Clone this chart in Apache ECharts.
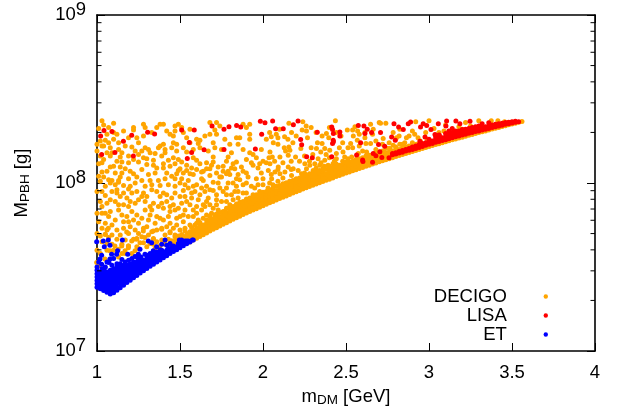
<!DOCTYPE html>
<html><head><meta charset="utf-8">
<style>html,body{margin:0;padding:0;background:#fff}#c{width:621px;height:412px}</style>
<script src="https://cdn.jsdelivr.net/npm/echarts@6/dist/echarts.min.js"></script>
</head><body><div id="c"></div>
<script>
const seriesNames = ['DECIGO','LISA','ET'];
const xTicks = [1,1.5,2,2.5,3,3.5,4];
const yMinorTicks = [2e7,3e7,4e7,5e7,6e7,7e7,8e7,9e7,2e8,3e8,4e8,5e8,6e8,7e8,8e8,9e8];

// All values: [m_DM, log10(M_PBH/g)]
const decigoPoints = [
[1.03,8.37],[1.10,8.355],[1.01,8.325],[1.06,8.29],[1.10,8.30],[1.12,8.29],[1.22,8.33],[1.22,8.315],[1.28,8.35],[1.29,8.33],[1.28,8.28],[1.36,8.33],[1.38,8.35],[1.40,8.35],[1.47,8.34],[1.49,8.35],[1.47,8.31],[1.44,8.29],[1.46,8.28],[1.10,8.26],[1.13,8.24],[1.17,8.22],[1.13,8.20],[1.02,8.25],[1.00,8.23],[1.03,8.22],[1.00,8.19],[1.04,8.22],[1.08,8.21],[1.09,8.18],[1.06,8.18],[1.08,8.16],[1.25,8.24],[1.23,8.19],[1.19,8.16],[1.29,8.21],[1.31,8.20],[1.32,8.18],[1.37,8.21],[1.40,8.23],[1.41,8.20],[1.38,8.22],[1.41,8.18],[1.46,8.24],[1.48,8.23],[1.45,8.21],[1.48,8.19],[1.46,8.15],[1.49,8.14],[1.25,8.17],[1.28,8.15],[1.30,8.145],[1.34,8.135],[1.34,8.105],[1.40,8.115],[1.40,8.09],[1.41,8.025],[1.25,8.125],[1.01,8.115],[1.03,8.12],[1.08,8.095],[1.10,8.10],[1.14,8.155],[1.15,8.125],[1.14,8.095],[1.17,8.085],[1.15,8.06],[1.14,8.035],[1.03,8.065],[1.04,8.035],[1.07,8.02],[1.09,8.015],[1.19,8.025],[1.13,8.015],[1.22,8.055],[1.24,8.035],[1.27,8.015],[1.32,8.015],[1.37,8.015],[1.49,8.075],[1.48,8.055],[1.47,8.025],
[1.68,8.36],[1.72,8.36],[1.74,8.34],[1.88,8.35],[1.92,8.35],[1.90,8.33],[1.52,8.30],[1.56,8.32],[1.54,8.27],[1.68,8.29],[1.72,8.29],[1.71,8.315],[1.60,8.26],[1.62,8.255],[1.61,8.235],[1.62,8.21],[1.52,8.21],[1.54,8.185],[1.58,8.20],[1.70,8.24],[1.71,8.21],[1.67,8.19],[1.70,8.155],[1.66,8.12],[1.60,8.135],[1.62,8.115],[1.80,8.23],[1.84,8.27],[1.86,8.27],[1.85,8.23],[1.92,8.29],[1.92,8.26],[1.81,8.18],[1.79,8.155],[1.92,8.18],[1.94,8.17],[1.99,8.20],[1.98,8.115],[1.93,8.12],[1.94,8.105],[1.84,8.125],[1.82,8.115],[1.81,8.09],[1.83,8.085],[1.87,8.095],[1.88,8.07],[1.76,8.10],[1.73,8.095],[1.70,8.125],[1.69,8.105],[1.68,8.085],[1.66,8.085],[1.51,8.125],[1.50,8.085],[1.54,8.105],[1.54,8.075],[1.56,8.055],[1.58,8.05],[1.63,8.065],[1.64,8.07],[1.63,8.025],[1.64,8.015],[1.55,8.015],[1.51,8.025],[1.70,8.005],[1.75,8.035],[1.78,8.055],[1.79,8.07],[1.80,8.05],[1.84,8.025],[1.86,8.02],[1.91,8.035],[1.96,8.025],[1.99,8.06],[2.00,8.025],[1.74,8.035],
[2.156,8.355],[2.24,8.365],[2.436,8.37],[2.26,8.34],[2.29,8.33],[2.236,8.315],[2.262,8.31],[2.172,8.30],[2.04,8.30],[2.08,8.29],[2.09,8.27],[2.13,8.275],[2.05,8.275],[2.02,8.26],[2.268,8.27],[2.18,8.24],[2.228,8.205],[2.328,8.24],[2.356,8.28],[2.382,8.295],[2.356,8.235],[2.396,8.27],[2.48,8.24],[2.442,8.30],[2.508,8.315],[2.512,8.21],[2.062,8.24],[2.09,8.23],[2.042,8.185],[2.128,8.21],[2.156,8.215],[2.136,8.19],[2.162,8.195],[2.152,8.165],[2.102,8.155],[2.036,8.15],[2.056,8.155],[2.042,8.115],[2.196,8.155],[2.322,8.205],[2.348,8.185],[2.372,8.205],[2.402,8.195],[2.442,8.175],[2.482,8.185],[2.332,8.145],[2.372,8.135],[2.442,8.145],[2.492,8.155],[2.512,8.145],[2.252,8.115],[2.282,8.105],[2.312,8.115],[2.342,8.105],[2.392,8.105],[2.422,8.115],[2.092,8.095],[2.152,8.095],[2.182,8.085],[2.212,8.075],[2.132,8.065],[2.072,8.065],[2.032,8.075],[2.102,8.055],[2.262,8.085],[2.302,8.075],[2.232,8.055],[2.172,8.045],[2.052,8.025],[2.272,8.045],
[2.648,8.35],[2.70,8.36],[2.708,8.355],[2.74,8.355],[2.554,8.335],[2.54,8.315],[2.544,8.28],[2.58,8.29],[2.614,8.30],[2.568,8.255],[2.614,8.27],[2.664,8.32],[2.66,8.29],[2.528,8.235],[2.54,8.21],[2.62,8.235],[2.648,8.235],[2.724,8.265],[2.784,8.30],[2.804,8.27],[2.864,8.27],[2.854,8.24],[2.914,8.29],[2.934,8.27],[2.92,8.365],[3.0,8.37],[2.824,8.32],[2.764,8.205],[2.784,8.225],[2.734,8.185],[2.694,8.165],[2.824,8.23],[2.894,8.21],[2.924,8.23],[2.948,8.25],[2.574,8.175],[2.534,8.155],[2.624,8.185],[2.644,8.155],[2.664,8.135],
[3.30,8.37],[3.375,8.37],[3.415,8.37],[3.455,8.365],[3.22,8.36],[3.1,8.345],[3.18,8.335],[3.03,8.325],[3.09,8.31],[2.98,8.3],[3.25,8.34],[3.15,8.30],[2.99,8.26],[2.93,8.21],[2.9,8.24],[2.88,8.2],[3.06,8.30],[3.2,8.32],
[1.08,8.0],[1.13,8.005],[1.20,7.98],[1.19,7.965],[1.12,7.96],[1.12,7.94],[1.14,7.92],[1.21,7.94],[1.03,7.95],[1.05,7.925],[1.02,7.89],[1.06,7.88],[1.03,7.86],[1.28,7.94],[1.30,7.92],[1.36,7.95],[1.40,7.94],[1.42,7.93],[1.47,7.94],[1.47,7.98],[1.42,7.89],[1.46,7.87],[1.25,7.90],[1.20,7.89],[1.13,7.87],[1.16,7.87],[1.19,7.86],[1.23,7.88],[1.29,7.89],[1.34,7.88],[1.37,7.86],[1.33,7.84],[1.40,7.85],[1.47,7.84],[1.44,7.83],[1.08,7.83],[1.05,7.82],[1.13,7.84],[1.15,7.81],[1.18,7.80],[1.21,7.83],[1.24,7.81],[1.22,7.78],[1.32,7.81],[1.36,7.80],[1.31,7.78],[1.01,7.77],[1.09,7.75],[1.20,7.74],[1.25,7.76],[1.28,7.73],[1.40,7.78],[1.44,7.76],[1.48,7.75],[1.39,7.73],[1.03,7.73],[1.06,7.72],[1.19,7.70],[1.25,7.70],[1.33,7.71],[1.44,7.71],[1.47,7.69],[1.02,7.685],[1.05,7.695],[1.07,7.675],[1.22,7.665],[1.24,7.67],[1.12,7.665],[1.15,7.635],[1.09,7.635],[1.19,7.625],[1.28,7.645],[1.34,7.67],[1.34,7.635],[1.41,7.635],[1.45,7.655],[1.48,7.665],
[1.55,7.97],[1.60,7.99],[1.59,7.95],[1.52,7.955],[1.65,7.95],[1.66,7.98],[1.73,8.0],[1.79,8.0],[1.78,7.97],[1.84,7.98],[1.88,7.99],[1.93,7.98],[1.97,7.99],[1.85,7.95],[1.78,7.93],[1.81,7.93],[1.88,7.94],[1.85,7.91],[1.82,7.90],[1.72,7.93],[1.70,7.955],[1.53,7.92],[1.57,7.91],[1.61,7.90],[1.67,7.91],[1.75,7.89],[1.78,7.89],[1.86,7.87],[1.51,7.88],[1.56,7.87],[1.60,7.86],[1.63,7.84],[1.65,7.86],[1.70,7.85],[1.73,7.84],[1.53,7.84],[1.77,7.83],[1.69,7.82],[1.71,7.81],[1.82,7.84],[1.91,7.89],[1.96,7.89],[2.0,7.92],[1.52,7.81],[1.55,7.80],[1.61,7.78],[1.64,7.79],[1.66,7.81],[1.52,7.77],[1.56,7.75],[1.68,7.77],[1.59,7.75],[1.62,7.75],[1.53,7.73],
[1.05,7.694],[1.068,7.73],[1.179,7.708],[1.209,7.655],[1.149,7.625],[1.189,7.615],[1.239,7.665],[1.289,7.675],[1.279,7.714],[1.339,7.714],[1.339,7.665],[1.39,7.724],[1.44,7.704],[1.45,7.655],[1.51,7.694],[1.53,7.714],[1.59,7.704],[1.63,7.724],[0.998,7.527],[1.012,7.507],[1.048,7.547],[1.078,7.596],[1.108,7.625],[1.128,7.606],[1.169,7.596],[1.189,7.625],[1.229,7.596],[1.259,7.645],[1.38,7.625],[1.43,7.665],[1.49,7.684],
[1.0,7.60],[1.0,7.70],[1.0,7.82],[1.0,7.95],[1.01,8.04],[1.06,7.60],[1.13,7.56],[1.15,7.58],[1.21,7.58],[1.25,7.61],[1.30,7.62],[1.32,7.64],[1.36,7.65],[1.39,7.66],[1.47,7.68],[1.52,7.68],[1.55,7.70],[1.57,7.735],[1.60,7.76],
// neighbours inside the clusters seen in the crops
[1.04,8.345],[1.07,8.33],[1.16,8.31],[1.19,8.27],[1.24,8.27],[1.33,8.30],[1.42,8.31],[1.51,8.33],[1.05,8.255],[1.07,8.24],[1.15,8.18],[1.21,8.215],[1.27,8.19],[1.35,8.175],[1.39,8.16],[1.43,8.135],[1.02,8.16],[1.04,8.14],[1.12,8.13],[1.19,8.12],[1.22,8.14],[1.30,8.11],[1.36,8.09],[1.44,8.10],[1.47,8.115],[1.06,8.07],[1.11,8.06],[1.20,8.07],[1.27,8.08],[1.31,8.05],[1.35,8.06],[1.42,8.06],[1.45,8.04],[1.02,8.01],[1.11,7.99],[1.16,7.985],[1.23,8.00],[1.29,7.98],[1.33,7.99],[1.38,7.985],[1.43,7.99],[1.50,8.00],[1.05,7.98],[1.09,7.95],[1.16,7.94],[1.24,7.95],[1.33,7.96],[1.38,7.92],[1.45,7.91],[1.50,7.92],[1.08,7.90],[1.11,7.89],[1.18,7.91],[1.27,7.92],[1.32,7.86],[1.39,7.88],[1.44,7.86],[1.49,7.85],[1.03,7.82],[1.07,7.80],[1.11,7.78],[1.16,7.77],[1.19,7.77],[1.27,7.79],[1.29,7.84],[1.35,7.76],[1.38,7.79],[1.43,7.80],[1.48,7.79],[1.05,7.76],[1.12,7.72],[1.16,7.73],[1.23,7.72],[1.30,7.74],[1.36,7.72],[1.42,7.74],[1.46,7.73],[1.50,7.72],[1.09,7.69],[1.14,7.69],[1.17,7.66],[1.27,7.68],[1.31,7.69],[1.41,7.69],[1.03,7.65],[1.06,7.64],[1.10,7.60],[1.17,7.58],[1.24,7.62],[1.35,7.61],[1.02,7.58],
[1.56,8.24],[1.58,8.15],[1.65,8.28],[1.75,8.20],[1.77,8.26],[1.78,8.13],[1.88,8.20],[1.90,8.14],[1.96,8.15],[2.00,8.13],[1.97,8.09],[1.90,8.06],[1.85,8.05],[1.76,8.07],[1.72,8.06],[1.68,8.045],[1.60,8.08],[1.57,8.09],[1.52,8.06],[1.53,7.99],[1.58,7.98],[1.63,7.97],[1.68,7.96],[1.74,7.97],[1.82,8.00],[1.90,8.00],[1.95,7.97],[2.0,7.99],[1.57,7.94],[1.62,7.93],[1.66,7.89],[1.72,7.90],[1.76,7.95],[1.83,7.95],[1.90,7.94],[1.94,7.93],[1.98,7.95],[1.54,7.89],[1.58,7.84],[1.64,7.87],[1.68,7.87],[1.72,7.87],[1.80,7.87],[1.50,7.80],[1.58,7.80],[1.60,7.82],[1.68,7.80],
[2.02,8.12],[2.07,8.13],[2.12,8.12],[2.17,8.13],[2.22,8.13],[2.12,8.03],[2.17,8.08],[2.25,8.16],[2.30,8.17],[2.29,8.21],[2.20,8.28],[2.15,8.26],[2.10,8.32],[2.32,8.30],[2.40,8.33],[2.47,8.28],[2.38,8.17],[2.40,8.15],[2.46,8.21],[2.28,8.13],[2.35,8.12],[2.43,8.13],[2.32,8.09],[2.37,8.10],[2.25,8.06],[2.09,8.01],[2.14,8.00],[2.19,8.01],[2.04,8.00],[2.06,7.99],[2.03,7.97],[2.11,7.97],[2.05,8.05],[2.09,8.08],[2.58,8.22],[2.60,8.19],[2.68,8.20],[2.72,8.23],[2.57,8.31],[2.68,8.25],[2.76,8.24],[2.82,8.28],[2.88,8.28],[2.90,8.31],[2.86,8.21],[2.79,8.19],[2.74,8.21]
];
// Dense lower band: m_DM first, then log10(M_PBH/g) values in that column.
const decigoBand = [
[1.44,7.62,7.64],[1.46,7.63,7.65],[1.48,7.64,7.66],[1.50,7.65,7.67],[1.52,7.66,7.68],[1.54,7.67,7.69],
[1.56,7.649,7.67,7.69,7.71],[1.58,7.660,7.68,7.70,7.72],[1.60,7.671,7.69,7.71,7.73],[1.62,7.682,7.70,7.72,7.74,7.765],
[1.64,7.692,7.71,7.73,7.75],[1.66,7.703,7.72,7.74,7.76,7.78],[1.68,7.714,7.735,7.755,7.775,7.80],[1.70,7.724,7.745,7.765,7.785],
[1.72,7.734,7.755,7.775,7.795,7.815],[1.74,7.744,7.765,7.785,7.80,7.825],[1.76,7.754,7.775,7.795,7.81,7.83],[1.78,7.764,7.785,7.805,7.825,7.85],
[1.80,7.774,7.795,7.815,7.835,7.855],[1.82,7.784,7.805,7.825,7.84,7.86],[1.84,7.793,7.815,7.835,7.85,7.875],[1.86,7.802,7.82,7.84,7.86,7.885],
[1.88,7.812,7.83,7.85,7.87,7.89],[1.90,7.821,7.84,7.86,7.88,7.905],[1.92,7.830,7.85,7.87,7.89,7.91],[1.94,7.839,7.86,7.88,7.90,7.92],
[1.96,7.847,7.87,7.89,7.905,7.93],[1.98,7.856,7.875,7.895,7.915,7.935],[2.00,7.865,7.885,7.905,7.925,7.945],[2.02,7.873,7.895,7.915,7.93,7.95],
[2.04,7.882,7.90,7.92,7.94,7.96],[2.06,7.890,7.91,7.93,7.95,7.97],[2.08,7.899,7.92,7.94,7.955,7.98],[2.10,7.907,7.93,7.95,7.965,7.985],
[2.12,7.915,7.935,7.955,7.975,7.995],[2.14,7.923,7.945,7.965,7.98,8.00],[2.16,7.932,7.95,7.97,7.99,8.01],[2.18,7.940,7.96,7.98,7.995,8.015],
[2.20,7.948,7.97,7.99,8.005,8.025],[2.22,7.956,7.975,7.995,8.01,8.03],[2.24,7.964,7.985,8.005,8.02,8.04],[2.26,7.971,7.99,8.01,8.025,8.045],
[2.28,7.979,8.00,8.02,8.035,8.055],[2.30,7.987,8.005,8.025,8.04,8.06],[2.32,7.994,8.015,8.035,8.05,8.07],[2.34,8.001,8.02,8.04,8.055,8.075],
[2.36,8.009,8.03,8.05,8.07,8.085],[2.38,8.016,8.035,8.055,8.08],[2.40,8.023,8.045,8.065,8.085,8.10],[2.42,8.030,8.05,8.07,8.09],
[2.44,8.038,8.06,8.08,8.10,8.115],[2.46,8.045,8.065,8.085,8.105],[2.48,8.052,8.07,8.09,8.11,8.13],[2.50,8.059,8.08,8.10,8.125],
[2.52,8.066,8.085,8.105,8.125],[2.54,8.073,8.09,8.11,8.13],[2.56,8.079,8.10,8.12,8.14],[2.58,8.086,8.105,8.125,8.145],
[2.60,8.093,8.11,8.13,8.15],[2.62,8.100,8.12,8.14,8.16],[2.64,8.106,8.125,8.145,8.165],[2.66,8.113,8.13,8.15,8.17],
[2.68,8.119,8.14,8.16,8.18],[2.70,8.126,8.145,8.165,8.185],[2.72,8.132,8.15,8.17,8.19],[2.74,8.138,8.16,8.175],
[2.76,8.145,8.165,8.185,8.205],[2.78,8.151,8.17,8.19],[2.80,8.157,8.175,8.195,8.215],[2.82,8.163,8.185,8.20],
[2.84,8.170,8.19,8.21,8.23],[2.86,8.176,8.195,8.215],[2.88,8.182,8.20,8.22],[2.90,8.188,8.21,8.23],
[2.92,8.194,8.215],[2.94,8.199,8.22],[2.96,8.205,8.225],[2.98,8.211,8.23],
[3.00,8.217,8.235],[3.02,8.223,8.24],[3.04,8.229,8.25],[3.06,8.234,8.255],
[3.08,8.240,8.26],[3.10,8.246,8.265],[3.12,8.251,8.27],[3.14,8.257,8.275],
[3.16,8.262,8.28],[3.18,8.268,8.285],[3.20,8.273,8.29],[3.22,8.278,8.295],
[3.24,8.284,8.30],[3.26,8.289,8.305],[3.28,8.295,8.31],[3.30,8.300,8.315],
[3.32,8.305,8.32],[3.34,8.310,8.325],[3.36,8.316,8.33],[3.38,8.321,8.335],
[3.40,8.326,8.34],[3.42,8.331,8.345],[3.44,8.336,8.35],[3.46,8.341,8.355],
[3.48,8.346,8.36],[3.50,8.351,8.362],[3.52,8.356,8.365],[3.54,8.361],[3.56,8.366]
];
// LISA: [m_DM, log10 M_PBH]
const lisaPoints = [
[1.042,8.312],[1.022,8.28],[1.09,8.306],[1.028,8.17],[1.108,8.182],[1.159,8.249],[1.209,8.284],[1.219,8.16],[1.305,8.302],[1.347,8.292],
[1.51,8.316],[1.586,8.316],[1.556,8.241],[1.57,8.182],[1.544,8.146],[1.645,8.198],[1.693,8.339],[1.765,8.32],[1.795,8.335],[1.841,8.343],
[1.866,8.333],[1.765,8.2],[1.954,8.203],[1.984,8.367],[2.012,8.359],[2.058,8.369],[1.992,8.29],[2.076,8.323],[2.122,8.323],[2.183,8.347],
[2.211,8.369],[2.227,8.259],[2.233,8.227],[2.263,8.156],[2.297,8.15],[2.327,8.302],[2.414,8.333],[2.419,8.318],[2.424,8.294],[2.424,8.245],
[2.414,8.156],[2.463,8.304],[2.463,8.28],[2.423,8.255],[2.419,8.235],[2.574,8.343],[2.608,8.339],[2.628,8.32],[2.614,8.294],[2.654,8.3],
[2.588,8.239],[2.564,8.166],[2.6,8.137],[2.602,8.128],[2.66,8.123],[2.664,8.176],[2.68,8.162],[2.704,8.186],[2.696,8.229],[2.733,8.219],
[2.716,8.152],[2.759,8.15],[2.775,8.274],[2.797,8.255],[2.708,8.3],[2.789,8.353],[2.817,8.333],[2.845,8.318],[2.875,8.353],[2.889,8.363],
[2.965,8.353],[2.986,8.343],[2.949,8.333],[3.012,8.318],[3.056,8.353],[3.106,8.369],[3.102,8.339],[3.162,8.369],[3.186,8.353],[3.247,8.367],
[2.945,8.249],[2.976,8.274],[3.036,8.288],[3.062,8.284],[3.12,8.31],[3.14,8.325],[3.32,8.352],[3.36,8.358]
];
// LISA dense band: m_DM first, then log10(M_PBH/g) values.
const lisaBand = [
[2.78,8.168,8.175],[2.80,8.172,8.18],[2.82,8.178,8.188],[2.84,8.183,8.193],[2.86,8.19,8.20],[2.88,8.195,8.205],[2.90,8.20,8.215],[2.92,8.205,8.22],[2.94,8.212,8.228],
[2.96,8.218,8.235],[2.98,8.224,8.24],[3.00,8.23,8.245,8.26],[3.02,8.235,8.25],[3.04,8.242,8.26,8.275],[3.06,8.247,8.265,8.285],[3.08,8.253,8.27],[3.10,8.258,8.275,8.295],
[3.12,8.263,8.28,8.298],[3.14,8.27,8.285,8.30],[3.16,8.275,8.29,8.31],[3.18,8.28,8.295,8.31],[3.20,8.285,8.30,8.318],[3.22,8.29,8.305,8.32],[3.24,8.296,8.31,8.325],[3.26,8.30,8.315,8.33],
[3.28,8.306,8.32,8.335],[3.30,8.31,8.325,8.34],[3.32,8.316,8.33],[3.34,8.32,8.335],[3.36,8.325,8.34],[3.38,8.33,8.345],[3.40,8.335,8.35],[3.42,8.34,8.352],
[3.44,8.344,8.355],[3.46,8.349,8.36],[3.48,8.353,8.362],[3.50,8.357,8.365],[3.52,8.361,8.367],[3.54,8.365]
];
// ET scattered points: [m_DM, log10 M_PBH]
const etPoints = [
[0.998,7.651],[1.038,7.655],[1.068,7.661],[1.153,7.661],[1.044,7.621],[1.078,7.629],[1.259,7.606],[1.309,7.655],[1.329,7.645],[1.359,7.621],
[1.41,7.661],[1.38,7.602],[1.42,7.629],[1.45,7.621],[1.47,7.602],[1.496,7.661],[1.52,7.645],[1.55,7.655],[1.574,7.661],[1.028,7.57],
[1.018,7.547],[1.028,7.517],[1.078,7.547],[1.088,7.576],[1.118,7.576],[1.124,7.596],[1.048,7.497],[1.072,7.527],[1.185,7.576],[1.229,7.563],
[1.249,7.576],[1.289,7.576],[1.339,7.596],[1.53,7.655],[1.44,7.64],[1.39,7.635],
[1.14,7.52],[1.17,7.53],[1.19,7.54],[1.21,7.55],[1.245,7.555],[1.265,7.56],[1.30,7.57],[1.32,7.58],[1.36,7.59],[1.39,7.60],[1.43,7.61],[1.46,7.625],[1.49,7.64],[1.05,7.50],[1.09,7.51],[1.12,7.52],[1.03,7.49],[1.00,7.48],[1.00,7.50],[1.01,7.53],[1.10,7.55],[1.15,7.545],[1.06,7.53],[1.34,7.575],[1.51,7.66]
];
// ET dense region: m_DM first, then log10(M_PBH/g) values.
const etBand = [
[1.00,7.38,7.40,7.42,7.44,7.46],[1.02,7.37,7.39,7.41,7.43,7.45,7.47],[1.04,7.36,7.38,7.40,7.42,7.44,7.46,7.48],[1.06,7.35,7.37,7.39,7.41,7.43,7.45,7.47],
[1.08,7.34,7.36,7.38,7.40,7.42,7.44,7.46,7.48],[1.10,7.346,7.37,7.39,7.41,7.43,7.45,7.47,7.49],[1.12,7.362,7.38,7.40,7.42,7.44,7.46,7.48,7.50],[1.14,7.377,7.40,7.42,7.44,7.46,7.48,7.50],
[1.16,7.392,7.41,7.43,7.45,7.47,7.49,7.51],[1.18,7.407,7.43,7.45,7.47,7.49,7.51],[1.20,7.421,7.44,7.46,7.48,7.50,7.52],[1.22,7.436,7.455,7.475,7.495,7.515,7.53],
[1.24,7.450,7.47,7.49,7.51,7.53],[1.26,7.464,7.485,7.505,7.525,7.54],[1.28,7.477,7.50,7.52,7.54],[1.30,7.491,7.51,7.53,7.55],
[1.32,7.504,7.525,7.545,7.56],[1.34,7.517,7.54,7.56],[1.36,7.530,7.55,7.57],[1.38,7.542,7.56,7.58],
[1.40,7.555,7.575,7.59],[1.42,7.567,7.585,7.60],[1.44,7.580,7.60],[1.46,7.592,7.61],
[1.48,7.603,7.62],[1.50,7.615,7.635],[1.52,7.626,7.645],[1.54,7.638,7.655],[1.56,7.649],[1.58,7.660]
];

const fromColumns = cols => cols.flatMap(([x, ...es]) => es.map(e => [x, 10 ** e]));
const fromPairs = pts => pts.map(([x, e]) => [x, 10 ** e]);

const font = '"Liberation Sans", Arial, sans-serif';
const fs = 18.5;
const decigo = fromPairs(decigoPoints).concat(fromColumns(decigoBand));
const lisa = fromPairs(lisaPoints).concat(fromColumns(lisaBand));
const et = fromPairs(etPoints).concat(fromColumns(etBand));

const yRich = {a:{fontFamily:font,fontSize:fs,color:'#000'},b:{fontFamily:font,fontSize:fs,color:'#000',padding:[0,0,11,0]}};
const scatter = (name, data, color, z) => ({name, type:'scatter', data, symbol:'circle', symbolSize:5, xAxisIndex:0, yAxisIndex:0, z, silent:true, clip:false, animation:false, itemStyle:{color, opacity:1}});

const minorSeries = {
  type:'custom', xAxisIndex:0, yAxisIndex:0, z:20, silent:true, animation:false, clip:false,
  data: yMinorTicks.map(v => [v]),
  encode:{y:0},
  renderItem(params, api){
    const v = api.value(0);
    const l = api.coord([1, v]), r = api.coord([4, v]);
    const style = {stroke:'#000', lineWidth:1};
    return {type:'group', children:[
      {type:'line', shape:{x1:l[0], y1:l[1], x2:l[0]+4.5, y2:l[1]}, style},
      {type:'line', shape:{x1:r[0], y1:r[1], x2:r[0]-4.5, y2:r[1]}, style}
    ]};
  }
};

const axisLine = {show:true, onZero:false, lineStyle:{color:'#000', width:1.6}};
const axisTick = {show:true, inside:true, length:8, lineStyle:{color:'#000', width:1}};
const chart = echarts.init(document.getElementById('c'), null, {renderer:'canvas'});
chart.setOption({
  animation:false,
  backgroundColor:'#fff',
  textStyle:{fontFamily:font},
  grid:{left:97, right:26, top:12, bottom:61, containLabel:false},
  legend:{
    data:seriesNames, orient:'vertical', align:'right', right:73, top:287, padding:0,
    itemWidth:68, itemHeight:4.4, itemGap:0, icon:'circle', selectedMode:false,
    textStyle:{fontFamily:font, fontSize:fs, color:'#000', lineHeight:17}
  },
  xAxis:[
    {type:'value', min:1, max:4, interval:0.5, position:'bottom', axisLine, axisTick, splitLine:{show:false},
     axisLabel:{fontFamily:font, fontSize:fs, color:'#000', margin:12, hideOverlap:false, showMinLabel:true, showMaxLabel:true,
       formatter:v => xTicks.includes(v) ? String(v) : ''},
     name:'{a|m}{s|DM}{a| [GeV]}', nameLocation:'middle', nameGap:36,
     nameTextStyle:{rich:{a:{fontFamily:font,fontSize:fs,color:'#000'},s:{fontFamily:font,fontSize:13.5,color:'#000',padding:[6,0,0,0]}}}},
    {type:'value', min:1, max:4, interval:0.5, position:'top', axisLine, axisTick, axisLabel:{show:false}, splitLine:{show:false}}
  ],
  yAxis:[
    {type:'log', logBase:10, min:1e7, max:1e9, position:'left', axisLine, axisTick, splitLine:{show:false}, minorTick:{show:false}, minorSplitLine:{show:false},
     axisLabel:{margin:11, fontFamily:font, fontSize:fs, color:'#000', rich:yRich, showMinLabel:true, showMaxLabel:true,
       formatter:v => '{a|10}{b|' + Math.round(Math.log10(v)) + '}'},
     name:'{a|M}{s|PBH}{a| [g]}', nameLocation:'middle', nameGap:65,
     nameTextStyle:{rich:{a:{fontFamily:font,fontSize:fs,color:'#000'},s:{fontFamily:font,fontSize:13.5,color:'#000',padding:[6,0,0,0]}}}},
    {type:'log', logBase:10, min:1e7, max:1e9, position:'right', axisLine, axisTick, axisLabel:{show:false}, splitLine:{show:false}}
  ],
  series:[
    scatter('DECIGO', decigo, '#FFA500', 3),
    scatter('LISA', lisa, '#FF0000', 4),
    scatter('ET', et, '#0000FF', 5),
    minorSeries
  ]
});
</script></body></html>
